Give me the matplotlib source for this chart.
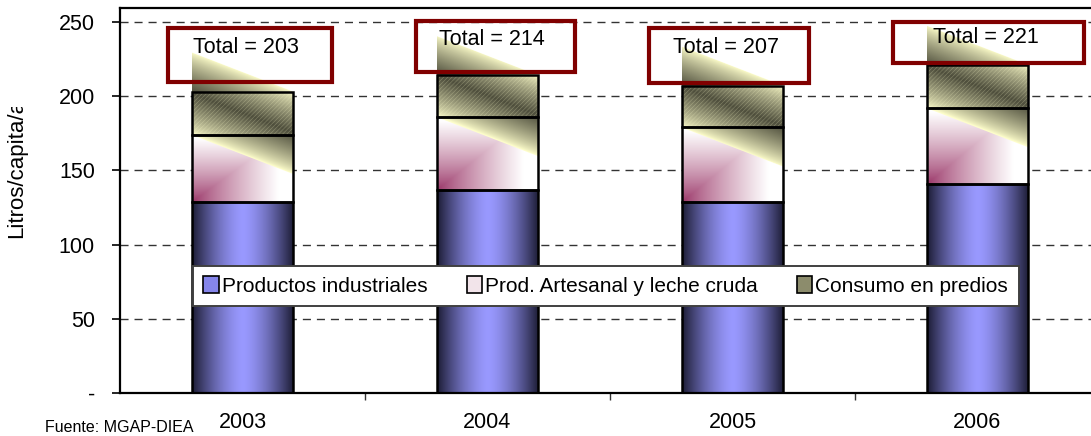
import numpy as np
import matplotlib
matplotlib.use("Agg")
import matplotlib.pyplot as plt
from matplotlib.patches import Rectangle, Polygon, Patch
from matplotlib.transforms import Bbox
from matplotlib.colors import to_rgb

plt.rcParams['font.family'] = ['Liberation Sans', 'DejaVu Sans']
plt.rcParams['hatch.linewidth'] = 0.4

# ---------------- data ----------------
years = ['2003', '2004', '2005', '2006']
industriales = [129, 137, 129, 141]
artesanal = [45, 49, 50, 51]
consumo = [29, 28, 28, 29]
totales = [203, 214, 207, 221]
series_names = ['Productos industriales', 'Prod. Artesanal y leche cruda',
                'Consumo en predios']
yticks = [0, 50, 100, 150, 200, 250]
ytick_labels = ['-', '50', '100', '150', '200', '250']

# ---------------- layout ----------------
W, H = 1091, 436
fig = plt.figure(figsize=(W / 100, H / 100), dpi=100)
ax = fig.add_axes([120 / W, (H - 393) / H, 980 / W, 385 / H])
ax.set_xlim(-0.5, 3.5)
ax.set_ylim(0, 259.4)

x = np.arange(len(years))
bw = 0.416

ind_bars = ax.bar(x, industriales, bw, facecolor='none', edgecolor='black',
                  linewidth=1.8, zorder=5)
bottom2 = np.array(industriales)
art_bars = ax.bar(x, artesanal, bw, bottom=bottom2, facecolor='none',
                  edgecolor='black', linewidth=1.8, zorder=5)
bottom3 = bottom2 + np.array(artesanal)
con_bars = ax.bar(x, consumo, bw, bottom=bottom3, facecolor='none',
                  edgecolor='black', linewidth=1.8, zorder=5)


def lerp(c0, c1, t):
    c0 = np.array(to_rgb(c0))
    c1 = np.array(to_rgb(c1))
    return c0[None, None, :] * (1 - t[..., None]) + c1[None, None, :] * t[..., None]


# industrial gradient: light centre, dark edges
for p in ind_bars:
    x0, y0, w, h = p.get_x(), p.get_y(), p.get_width(), p.get_height()
    u = np.linspace(0, 1, 200)
    t = np.abs(2 * u - 1) ** 1.5
    img = lerp('#9999ff', '#1c1c34', np.tile(t, (2, 1)))
    im = ax.imshow(img, extent=[x0, x0 + w, y0, y0 + h], aspect='auto',
                   origin='lower', zorder=2, interpolation='bilinear')
    im.set_clip_path(p)

# artesanal gradient: maroon corner bottom-left to white
for p in art_bars:
    x0, y0, w, h = p.get_x(), p.get_y(), p.get_width(), p.get_height()
    u = np.linspace(0, 1, 120)
    v = np.linspace(0, 1, 120)
    U, V = np.meshgrid(u, v)
    t = np.clip(np.maximum(U / 0.85, V / 0.95), 0, 1) ** 0.8
    img = lerp('#993366', '#ffffff', t)
    im = ax.imshow(img, extent=[x0, x0 + w, y0, y0 + h], aspect='auto',
                   origin='lower', zorder=2, interpolation='bilinear')
    im.set_clip_path(p)

# consumo: slanted glossy band (pale yellow -> olive -> pale yellow)
d = 26.5
for p in con_bars:
    x0, y0, w, h = p.get_x(), p.get_y(), p.get_width(), p.get_height()
    ct, cb = y0 + h, y0
    ylo, yhi = cb - d, ct + d
    u = np.linspace(0, 1, 150)
    yy = np.linspace(ylo, yhi, 300)
    U, Y = np.meshgrid(u, yy)
    s = (Y - (cb - d * U)) / (h + d)
    wgt = np.clip(1 - np.abs(2 * s - 1), 0, 1) ** 0.8
    img = lerp('#ffffcc', '#4e4e3c', wgt)
    im = ax.imshow(img, extent=[x0, x0 + w, ylo, yhi], aspect='auto',
                   origin='lower', zorder=3, interpolation='bilinear')
    poly = Polygon([[x0, ct + d], [x0 + w, ct], [x0 + w, cb - d], [x0, cb]],
                   closed=True, transform=ax.transData)
    im.set_clip_path(poly)

# fine texture on consumo boxes
ax.bar(x, consumo, bw, bottom=bottom3, facecolor='none',
       edgecolor=(1, 1, 0.8, 0.3), linewidth=0, hatch='////////', zorder=4)

# gridlines
ax.set_yticks(yticks)
ax.set_yticklabels(ytick_labels)
ax.yaxis.grid(True, color='#333333', linestyle=(0, (5.8, 4.3)), linewidth=1.0)
ax.set_axisbelow(True)

# ticks
ax.set_xticks(x)
ax.set_xticklabels(years)
ax.tick_params(axis='x', which='major', length=0, pad=14, labelsize=15.5)
ax.set_xticks([0.5, 1.5, 2.5], minor=True)
ax.tick_params(axis='x', which='minor', length=5, width=1, color='#333333',
               direction='out')
ax.tick_params(axis='y', length=6, width=1.2, pad=12, labelsize=15.5,
               direction='out')

for side in ['left', 'bottom', 'top']:
    ax.spines[side].set_linewidth(1.6)
    ax.spines[side].set_color('black')
ax.spines['right'].set_visible(False)

# total boxes
box_dx0 = [-0.304, -0.292, -0.341, -0.345]
box_dx1 = [0.365, 0.357, 0.312, 0.435]
box_y0 = [209.6, 216.5, 209.0, 222.4]
box_y1 = [246.0, 250.7, 246.0, 250.0]
txt_dx = [-0.202, -0.198, -0.243, -0.182]
txt_y = [232.5, 238.5, 232.5, 239.5]
for i, tot in enumerate(totales):
    r = Rectangle((i + box_dx0[i], box_y0[i]), box_dx1[i] - box_dx0[i],
                  box_y1[i] - box_y0[i], facecolor='none',
                  edgecolor='#800000', linewidth=3, zorder=7)
    ax.add_patch(r)
    ax.text(i + txt_dx[i], txt_y[i], f'Total = {tot}', fontsize=15.5,
            ha='left', va='center', zorder=8)

# legend
handles = [Patch(facecolor='#8585ea', edgecolor='black', linewidth=1.2),
           Patch(facecolor='#f2e4ea', edgecolor='black', linewidth=1.2),
           Patch(facecolor='#8c8c6c', edgecolor='black', linewidth=1.2)]
leg = ax.legend(handles, series_names, loc='center',
                bbox_to_anchor=(0.0745, 0.2156, 0.8425, 0.124), mode='expand',
                ncol=3, fontsize=15, frameon=True, fancybox=False,
                framealpha=1, facecolor='white',
                handlelength=0.75, handleheight=0.9, handletextpad=0.15,
                borderpad=0.5, columnspacing=1.0, borderaxespad=0)
leg.get_frame().set_edgecolor('#404040')
leg.get_frame().set_linewidth(1.4)
leg.set_zorder(10)

# y label (clipped like the original)
yl = fig.text(17 / W, 1 - 238 / H, 'Litros/capita/año', rotation=90,
              fontsize=16, ha='center', va='bottom')
yl.set_clip_on(True)
yl.set_clip_box(Bbox.from_extents(0, 0, W, H - 107))

# source
fig.text(45 / W, (H - 420) / H, 'Fuente: MGAP-DIEA', fontsize=11.5,
         ha='left', va='top')

fig.savefig('out.png', dpi=100)
